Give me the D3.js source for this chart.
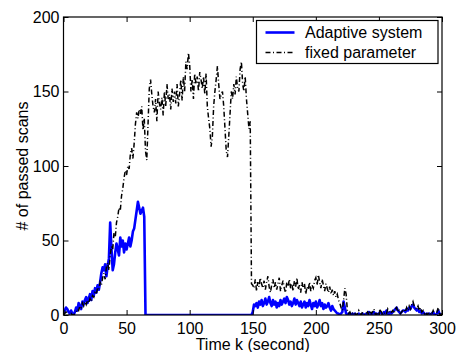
<!DOCTYPE html>
<html lang="en">
<head>
<meta charset="utf-8">
<title>Passed scans</title>
<script src="https://d3js.org/d3.v7.min.js"></script>
<style>
  body { margin: 0; background: #fff; }
  svg { width: 459px; height: 352px; display: block; }
  text { font-family: "Liberation Sans", Arial, Helvetica, sans-serif; fill: #000; }
  .tick-label { font-size: 16px; }
  .axis-title { font-size: 16px; }
  .legend-text { font-size: 16px; }
</style>
</head>
<body>
<svg></svg>
<script>
// values, one per second (t = 0..300)
const fixedParam = [
  0,1,2,1,0,0,1,0,0,1,
  2,4,3,6,5,8,6,9,7,10,
  8,11,9,13,12,15,14,18,17,22,
  20,25,28,24,32,35,30,40,46,44,
  55,52,62,66,72,70,80,85,92,97,
  94,100,98,108,112,105,115,128,136,132,
  138,135,140,124,132,110,104,128,152,158,
  148,140,136,145,130,150,142,138,146,134,
  150,140,155,145,148,138,152,143,150,142,
  155,140,148,158,144,160,150,170,165,176,
  168,150,158,145,162,155,160,150,163,158,
  152,160,148,162,140,132,125,113,120,140,
  150,158,167,155,145,148,150,140,125,110,
  106,120,135,150,145,155,148,160,152,150,
  165,170,155,150,160,145,135,125,130,21,
  20,18,24,16,22,19,25,21,18,23,
  17,22,26,19,15,20,24,18,22,17,
  21,25,16,20,23,18,15,22,19,24,
  18,21,16,23,19,25,17,20,15,22,
  18,21,14,19,17,22,16,20,18,23,
  25,20,27,22,18,24,20,16,21,18,
  15,19,14,17,13,16,12,14,10,8,
  5,3,10,18,14,3,1,2,0,1,
  2,1,0,1,3,1,0,2,1,0,
  1,2,0,3,1,2,4,1,0,2,
  1,3,2,0,1,2,1,4,2,1,
  2,3,1,4,5,2,3,1,2,3,
  4,2,5,3,6,4,7,9,6,5,
  4,6,3,5,2,3,1,2,0,1,
  2,0,1,3,1,0,2,5,1,0,
  1
];

const adaptive = [
  1,3,5,4,2,1,3,1,0,2,
  5,3,8,6,4,9,7,10,12,8,
  11,14,10,16,13,18,15,20,17,22,
  28,32,30,34,26,33,38,62,45,30,
  34,42,48,44,40,52,46,50,42,48,
  44,48,52,46,50,56,58,64,70,76,
  72,68,70,72,66,0,0,0,0,0,
  0,0,0,0,0,0,0,0,0,0,
  0,0,0,0,0,0,0,0,0,0,
  0,0,0,0,0,0,0,0,0,0,
  0,0,0,0,0,0,0,0,0,0,
  0,0,0,0,0,0,0,0,0,0,
  0,0,0,0,0,0,0,0,0,0,
  0,0,0,0,0,0,0,0,0,0,
  0,0,0,0,0,0,0,0,0,0,
  2,7,6,8,5,9,7,10,6,8,
  11,7,9,12,8,6,10,7,9,5,
  8,6,10,7,9,11,8,12,10,7,
  9,6,8,11,7,10,8,6,9,5,
  7,9,5,8,6,10,7,4,8,6,
  9,5,7,10,6,8,4,7,5,6,
  8,5,3,6,4,3,2,1,1,0,
  1,2,9,5,1,0,1,0,0,1,
  0,1,0,0,1,0,0,1,0,0,
  1,0,2,1,0,1,2,0,1,0,
  1,2,1,0,2,1,3,1,0,2,
  1,2,3,4,5,3,2,1,2,3,
  3,2,4,3,5,4,6,7,5,4,
  3,4,2,3,1,2,1,0,1,0,
  1,0,1,2,0,0,1,3,1,0,
  0
];

const xTicks = [0, 50, 100, 150, 200, 250, 300];
const yTicks = [0, 50, 100, 150, 200];
const seriesNames = ["Adaptive system", "fixed parameter"];

const margin = {left: 63.5, right: 17, top: 17, bottom: 37};
const W = 459, H = 352;

const svg = d3.select("svg");

const x = d3.scaleLinear().domain([0, 300]).range([margin.left, W - margin.right]);
const y = d3.scaleLinear().domain([0, 200]).range([H - margin.bottom, margin.top]);

const line = d3.line()
  .x((d, i) => x(i))
  .y(d => y(d));

// clip to the frame
svg.append("clipPath").attr("id", "plot")
  .append("rect")
  .attr("x", x(0)).attr("y", y(200))
  .attr("width", x(300) - x(0)).attr("height", y(0) - y(200));

const plot = svg.append("g").attr("clip-path", "url(#plot)");

plot.append("path")
  .attr("d", line(adaptive))
  .attr("fill", "none")
  .attr("stroke", "#0000ff")
  .attr("stroke-width", 2.6)
  .attr("stroke-linejoin", "round");

plot.append("path")
  .attr("d", line(fixedParam))
  .attr("fill", "none")
  .attr("stroke", "#000")
  .attr("stroke-width", 1.5)
  .attr("stroke-dasharray", "5,2.5,1,2.5");

// axes: ticks pointing inward on all four sides
const tickLen = 5;
svg.append("g")
  .attr("transform", "translate(0," + y(0) + ")")
  .call(d3.axisBottom(x).tickValues(xTicks).tickSize(-tickLen).tickPadding(8))
  .call(g => g.select(".domain").remove());

svg.append("g")
  .attr("transform", "translate(0," + y(200) + ")")
  .call(d3.axisTop(x).tickValues(xTicks).tickSize(-tickLen).tickFormat(""))
  .call(g => g.select(".domain").remove());

svg.append("g")
  .attr("transform", "translate(" + x(0) + ",0)")
  .call(d3.axisLeft(y).tickValues(yTicks).tickSize(-tickLen).tickPadding(4))
  .call(g => g.select(".domain").remove());

svg.append("g")
  .attr("transform", "translate(" + x(300) + ",0)")
  .call(d3.axisRight(y).tickValues(yTicks).tickSize(-tickLen).tickFormat(""))
  .call(g => g.select(".domain").remove());

svg.selectAll(".tick text")
  .attr("class", "tick-label")
  .style("font-size", "16px")
  .style("font-family", "'Liberation Sans', Arial, Helvetica, sans-serif")
  .attr("fill", "#000");

svg.selectAll(".tick line").attr("stroke", "#000");

// frame
svg.append("rect")
  .attr("x", x(0)).attr("y", y(200))
  .attr("width", x(300) - x(0)).attr("height", y(0) - y(200))
  .attr("fill", "none")
  .attr("stroke", "#000")
  .attr("stroke-width", 1.2);

// axis titles
svg.append("text")
  .attr("class", "axis-title")
  .attr("x", (x(0) + x(300)) / 2)
  .attr("y", 350)
  .attr("text-anchor", "middle")
  .text("Time k (second)");

svg.append("text")
  .attr("class", "axis-title")
  .attr("transform", "translate(28," + (y(0) + y(200)) / 2 + ") rotate(-90)")
  .attr("text-anchor", "middle")
  .text("# of passed scans");

// legend
const lg = svg.append("g").attr("transform", "translate(256.5,20.5)");
lg.append("rect")
  .attr("width", 181.5).attr("height", 43)
  .attr("fill", "#fff").attr("stroke", "#000").attr("stroke-width", 1.2);

const legendStyles = [
  {stroke: "#0000ff", width: 2.6, dash: null},
  {stroke: "#000", width: 1.5, dash: "5,2.5,1,2.5"}
];

seriesNames.forEach((name, i) => {
  const yy = 12 + i * 20;
  lg.append("line")
    .attr("x1", 9).attr("x2", 38)
    .attr("y1", yy).attr("y2", yy)
    .attr("stroke", legendStyles[i].stroke)
    .attr("stroke-width", legendStyles[i].width)
    .attr("stroke-dasharray", legendStyles[i].dash);
  lg.append("text")
    .attr("class", "legend-text")
    .attr("x", 48.5).attr("y", yy + 5.5)
    .text(name);
});
</script>
</body>
</html>
